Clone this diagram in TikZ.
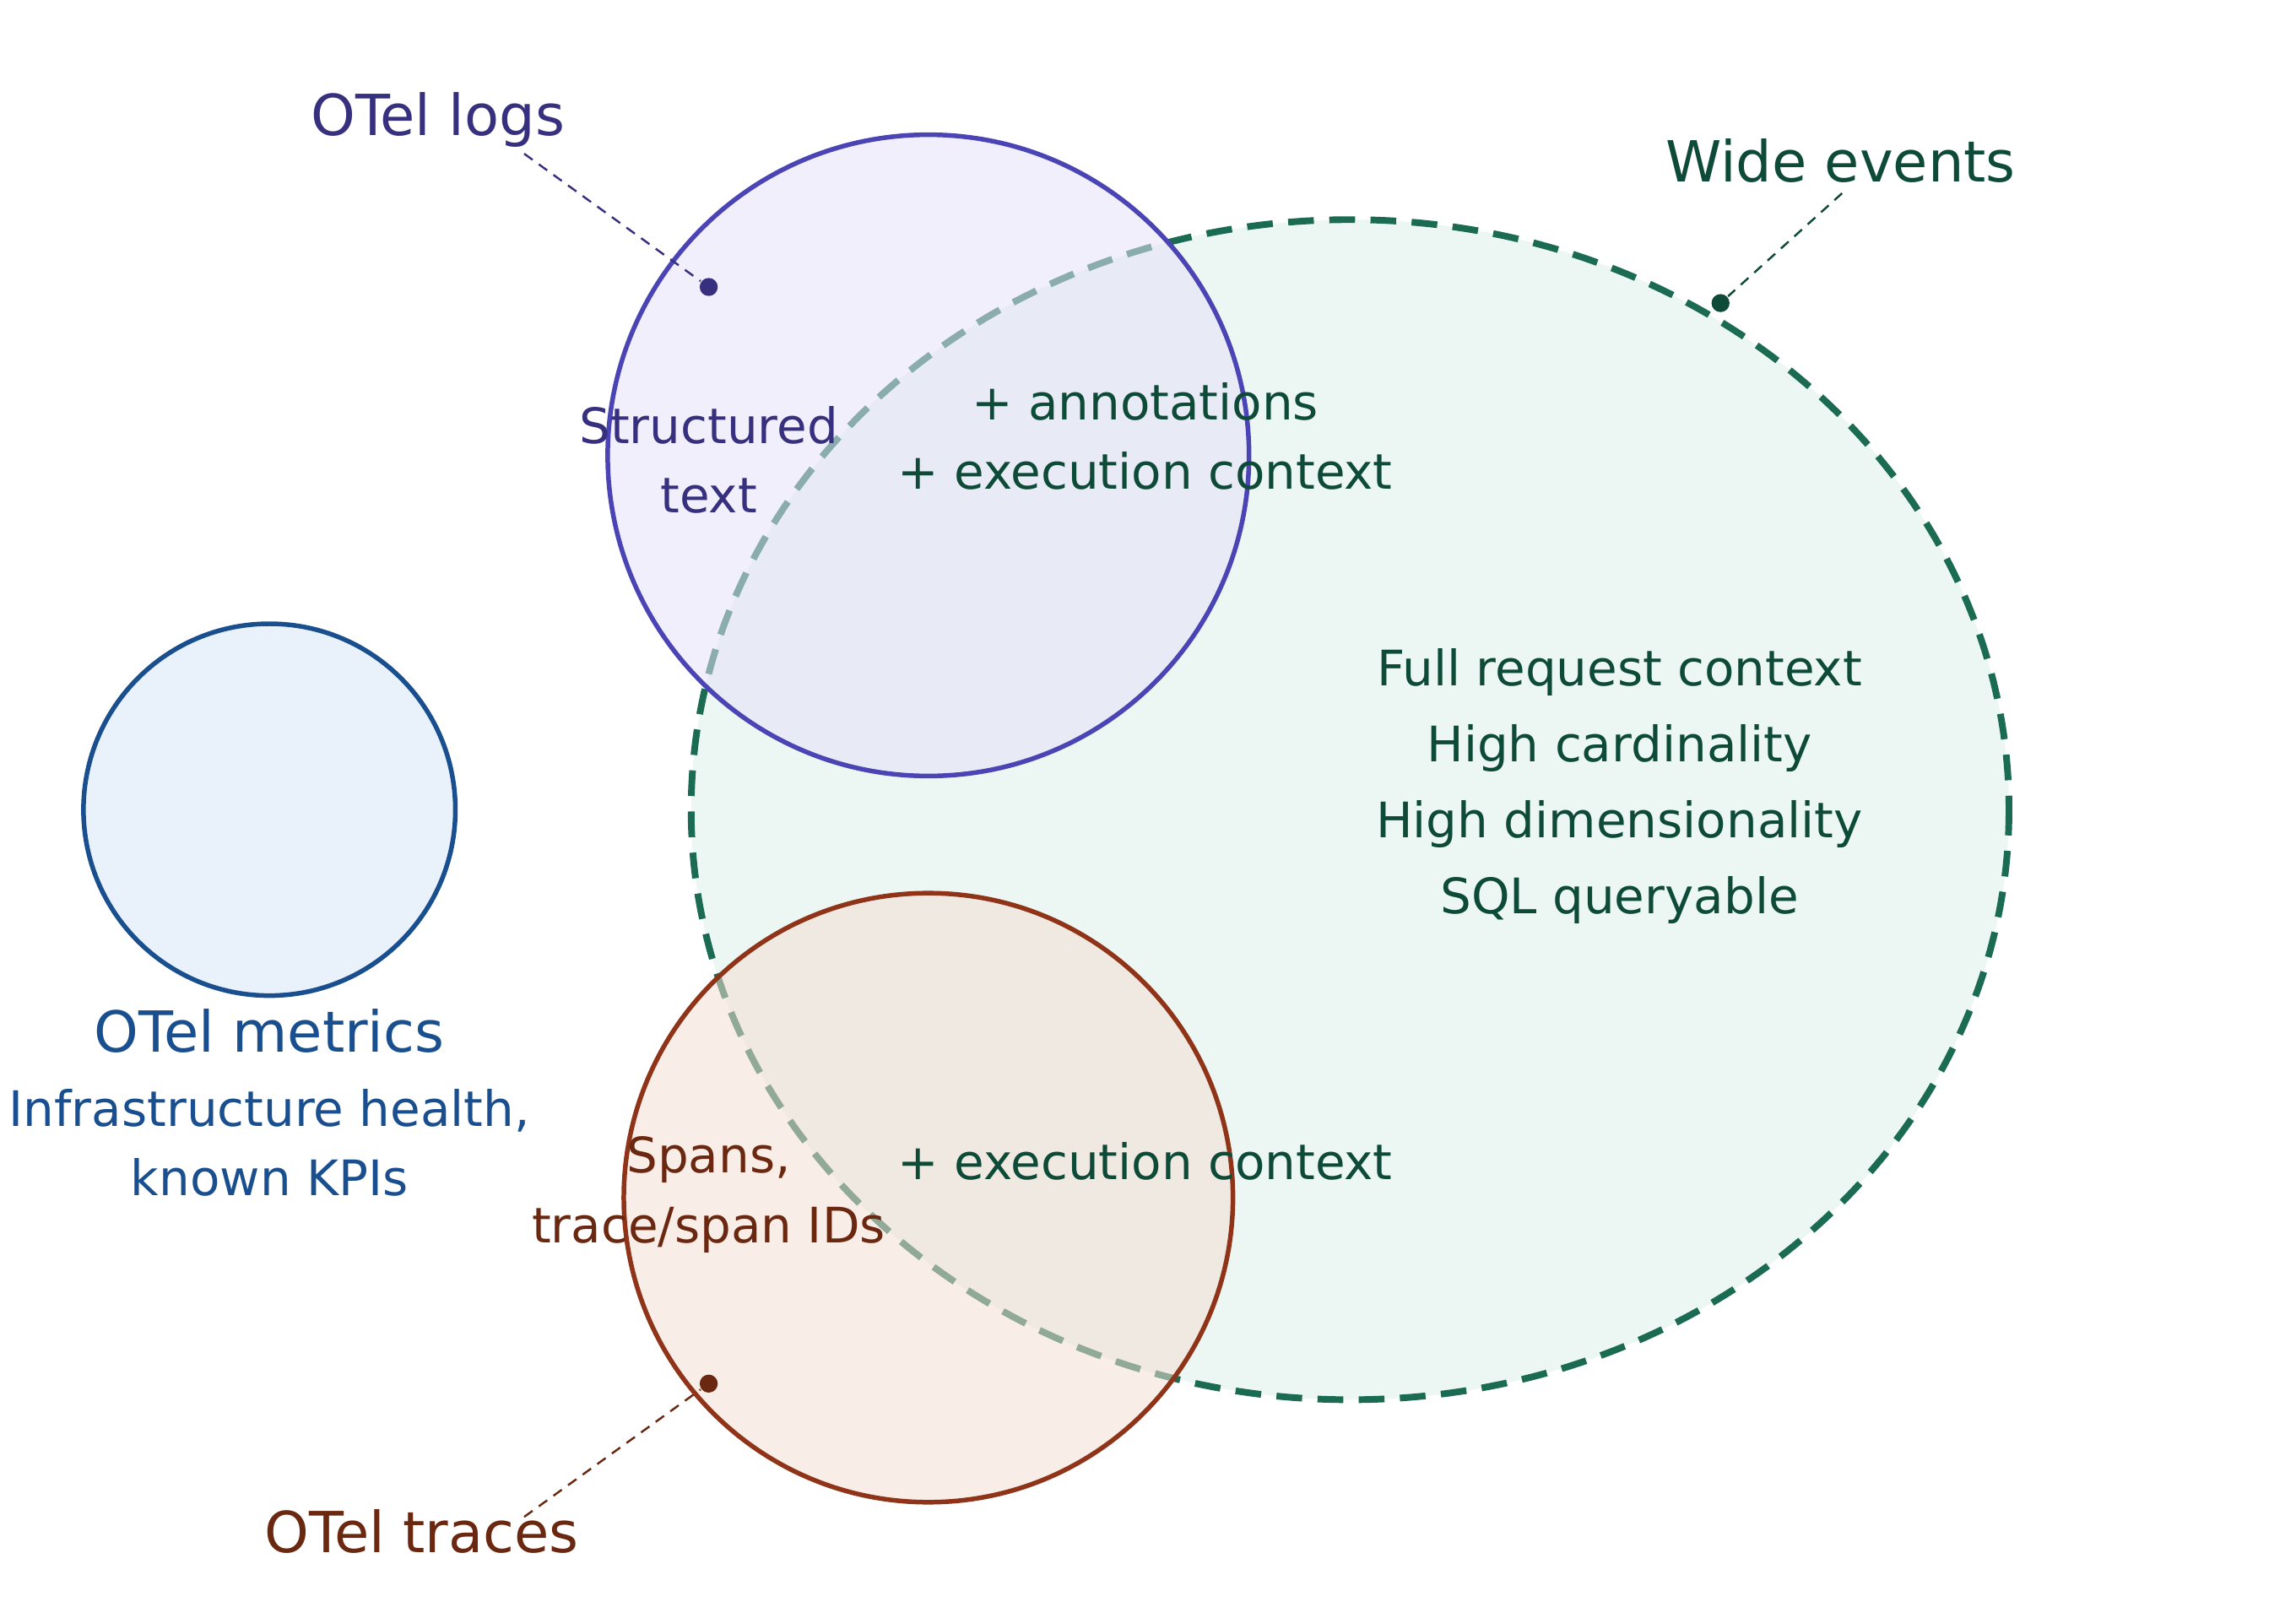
\documentclass[tikz,border=0pt]{standalone}
\usepackage{fontspec}
\setmainfont{DejaVu Sans}
\usetikzlibrary{positioning}
\definecolor{logsC}{HTML}{4B44B5}
\definecolor{logsT}{HTML}{37307F}
\definecolor{logsF}{HTML}{E6E2F7}
\definecolor{wideC}{HTML}{1A6B52}
\definecolor{wideT}{HTML}{0E4A38}
\definecolor{wideF}{HTML}{DCEFE7}
\definecolor{metC}{HTML}{1A4F8F}
\definecolor{metF}{HTML}{E9F2FB}
\definecolor{trC}{HTML}{8F3418}
\definecolor{trT}{HTML}{6B2810}
\definecolor{trF}{HTML}{F4DED3}
\tikzset{
  set/.style={line width=0.9pt, fill opacity=0.55},
  title/.style={font=\fontsize{11}{13}\selectfont},
  body/.style={font=\fontsize{9.5}{13.5}\selectfont, align=center},
  leader/.style={dashed, line width=0.4pt, dash pattern=on 2pt off 1.5pt},
  pin/.style={circle, fill, inner sep=0pt, minimum size=3.5pt}
}
\begin{document}
\begin{tikzpicture}[x=0.01cm, y=-0.01cm]
\useasboundingbox (0,0) rectangle (1568,1105);
% sets
\draw[set, draw=metC, fill=metF, fill opacity=1] (184,553) circle[radius=127];
\draw[set, draw=wideC, fill=wideF, dashed, line width=1.3pt, dash pattern=on 5pt off 3pt] (922,553) ellipse[x radius=450, y radius=403];
\draw[set, draw=logsC, fill=logsF] (634,311) circle[radius=219];
\draw[set, draw=trC, fill=trF] (634,818) circle[radius=208];
% pins and leaders
\node[pin, logsT] (logsPin) at (484,196) {};
\coordinate (logsEnd) at (358,105);
\draw[leader, logsT] (logsEnd) -- (logsPin);
\node[pin, wideT] (widePin) at (1175,207) {};
\coordinate (wideEnd) at (1258,132);
\draw[leader, wideT] (wideEnd) -- (widePin);
\node[pin, trT] (trPin) at (484,945) {};
\coordinate (trEnd) at (358,1036);
\draw[leader, trT] (trEnd) -- (trPin);
% labels
\node[title, text=logsT] (logsLbl) at (299,82) {OTel logs};
\node[title, text=wideT] (wideLbl) at (1257,110) {Wide events};
\node[title, text=trT] (trLbl) at (288,1046) {OTel traces};
\node[title, text=metC] (metLbl) at (184,704) {OTel metrics};
\node[body, text=metC, below=0pt of metLbl] (metTxt) {Infrastructure health,\\known KPIs};
\node[body, text=logsT] (logsTxt) at (484,314) {Structured\\text};
\node[body, text=wideT] (logsOver) at (782,298) {+ annotations\\+ execution context};
\node[body, text=trT] (trTxt) at (484,816) {Spans,\\trace/span IDs};
\node[body, text=wideT] (trOver) at (782,793) {+ execution context};
\node[body, text=wideT, font=\fontsize{9.5}{14.8}\selectfont] (wideTxt) at (1106,537) {Full request context\\High cardinality\\High dimensionality\\SQL queryable};
\end{tikzpicture}
\end{document}
